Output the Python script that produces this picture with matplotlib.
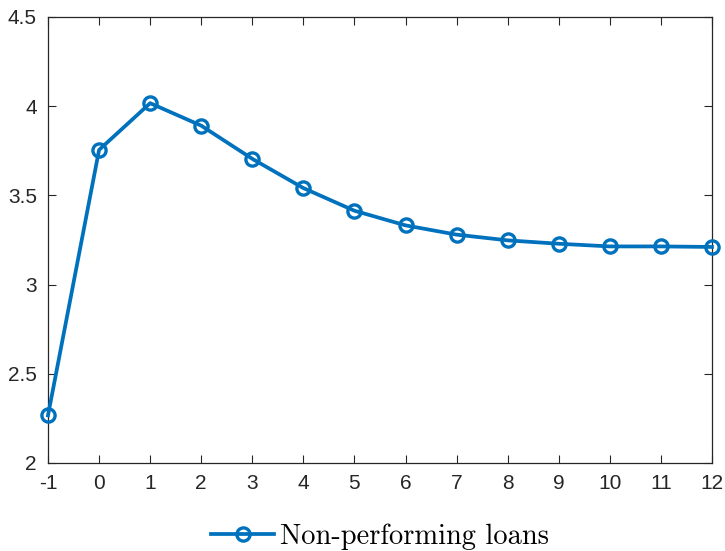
import matplotlib
matplotlib.use('Agg')
import matplotlib.pyplot as plt

# Impulse response
horizon = [-1, 0, 1, 2, 3, 4, 5, 6, 7, 8, 9, 10, 11, 12]
npl = [2.267, 3.755, 4.017, 3.891, 3.705, 3.541, 3.414, 3.332,
       3.280, 3.248, 3.229, 3.214, 3.214, 3.211]
xticks = list(range(-1, 13))
yticks = [2, 2.5, 3, 3.5, 4, 4.5]
ytick_labels = ['2', '2.5', '3', '3.5', '4', '4.5']

blue = '#0072BD'
grey = '#262626'

plt.rcParams['font.family'] = ['Liberation Sans', 'DejaVu Sans']
plt.rcParams['axes.unicode_minus'] = False

fig = plt.figure(figsize=(7.25, 5.51), dpi=100)
ax = fig.add_axes([48/725, 88/551, 664/725, 446/551])

line, = ax.plot(horizon, npl, color=blue, linewidth=2.7, marker='o',
                markersize=9.5, markerfacecolor='none', markeredgewidth=2.4,
                markeredgecolor=blue, clip_on=False, zorder=3)

ax.set_xlim(-1, 12)
ax.set_ylim(2, 4.5)
ax.set_xticks(xticks)
ax.set_yticks(yticks)
ax.set_yticklabels(ytick_labels)

for sp in ax.spines.values():
    sp.set_color(grey)
    sp.set_linewidth(0.9)
ax.tick_params(direction='in', length=6, width=0.8, color=grey,
               labelcolor=grey, labelsize=15, top=True, right=True)
ax.tick_params(axis='x', pad=8)
ax.tick_params(axis='y', pad=8)

fig.legend([line], ['Non-performing loans'], loc='center',
           bbox_to_anchor=(380/725, 1 - 537/551), frameon=False,
           handlelength=2.2, handletextpad=0.2,
           prop={'family': 'cmr10', 'size': 20.5})

fig.savefig('out.png', dpi=100)
